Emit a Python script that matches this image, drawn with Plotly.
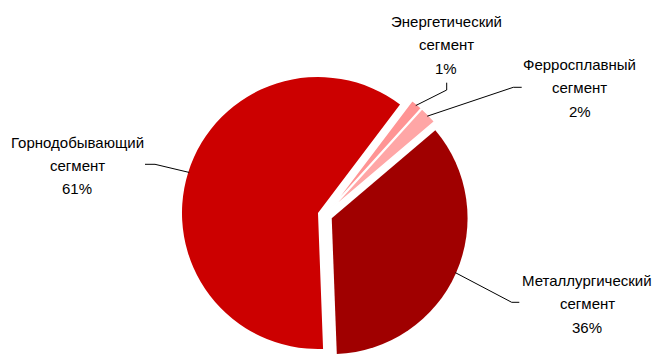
import math
import plotly.graph_objects as go

# ---- data ----
categories = ["Энергетический сегмент", "Ферросплавный сегмент",
              "Металлургический сегмент", "Горнодобывающий сегмент"]
name_lines = ["Энергетический", "Ферросплавный", "Металлургический", "Горнодобывающий"]
second_line = ["сегмент", "сегмент", "сегмент", "сегмент"]
shares = [1.4, 2.1, 35.6, 60.9]          # % (labels show them rounded)
colors = ["#FF9494", "#FFA6A6", "#A00000", "#CC0000"]

# ---- layout constants (pixels) ----
W, H = 655, 354
CX, CY = 325.0, 215.2      # pie centre
R = 136.0                  # pie radius
EXPLODE = 7.35             # slice explosion distance
START = 37.1               # angle of first slice (clockwise from 12 o'clock)
STROKE = [1.5, 1.5, 0, 0]
FONT = dict(family="Liberation Sans, Arial, sans-serif", size=15, color="#000000")
LINE_GAP = 23.4
# label block: centre x, baseline of first line ; leader elbow points
label_pos = [(446, 26.7), (579.5, 69.5), (587, 285.7), (77, 147.3)]
leader_start = [[(446.7, 82.7), (446.7, 90.0)],
                [(521.7, 87.3), (513.3, 87.3)],
                [(519.3, 302.3), (511.7, 302.3)],
                [(145.0, 164.3), (155.0, 164.3)]]


def px(x):
    return x / W


def py(y):
    return 1 - y / H


total = sum(shares)
fig = go.Figure()
shapes = []
annotations = []
cum = 0.0
for i, v in enumerate(shares):
    mid = START + 360.0 * (cum + v / 2.0) / total
    cum += v
    ux, uy = math.sin(math.radians(mid)), -math.cos(math.radians(mid))
    cx, cy = CX + EXPLODE * ux, CY + EXPLODE * uy
    r = R + STROKE[i] / 2.0
    half = min(r, H - cy, cy)
    fig.add_trace(go.Pie(
        labels=categories, values=shares, sort=False, direction="clockwise",
        rotation=START, textinfo="none", hoverinfo="skip", showlegend=False,
        marker=dict(colors=[colors[j] if j == i else "rgba(0,0,0,0)" for j in range(len(shares))],
                    line=dict(color="#FFFFFF",
                              width=[STROKE[i] if j == i else 0 for j in range(len(shares))])),
        domain=dict(x=[px(cx - half), px(cx + half)], y=[py(cy + half), py(cy - half)]),
    ))
    # leader line to the slice rim at its mid angle
    rx, ry = cx + (R - 1) * ux, cy + (R - 1) * uy
    (ax, ay), (bx, by) = leader_start[i]
    shapes.append(dict(type="path", xref="paper", yref="paper",
                       path=f"M {px(ax)},{py(ay)} L {px(bx)},{py(by)} L {px(rx)},{py(ry)}",
                       line=dict(color="#000000", width=1)))
    # label lines
    lx, base = label_pos[i]
    lines = [name_lines[i], second_line[i], f"{round(v):d}%"]
    for k, t in enumerate(lines):
        annotations.append(dict(text=t, x=px(lx), y=py(base + k * LINE_GAP - 5.2),
                                xref="paper", yref="paper", xanchor="center",
                                yanchor="middle", showarrow=False, font=FONT))

fig.update_layout(width=W, height=H, margin=dict(l=0, r=0, t=0, b=0),
                  paper_bgcolor="#FFFFFF", plot_bgcolor="#FFFFFF",
                  shapes=shapes, annotations=annotations, showlegend=False)
fig.write_html("out.html", config={"displayModeBar": False},
               post_script="document.body.style.margin='0px';document.body.style.overflow='hidden';")
